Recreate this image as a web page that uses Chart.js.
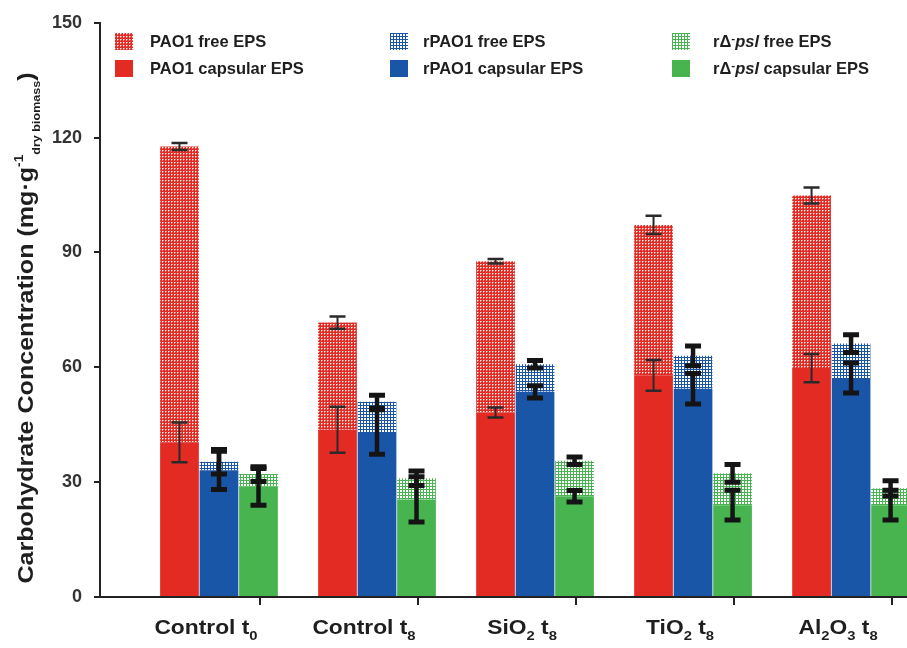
<!DOCTYPE html>
<html>
<head>
<meta charset="utf-8">
<script src="https://cdn.jsdelivr.net/npm/chart.js@4.4.1/dist/chart.umd.min.js"></script>
<style>
  html, body { margin: 0; padding: 0; background: #fff; overflow: hidden; }
  #wrap { width: 907px; height: 648px; position: relative; }
</style>
</head>
<body>
<div id="wrap"><canvas id="myChart"></canvas></div>
<script>
// categories (_x_ = subscript)
const groups = ["Control t_0_", "Control t_8_", "SiO_2_ t_8_", "TiO_2_ t_8_", "Al_2_O_3_ t_8_"];
const yTicks = [0, 30, 60, 90, 120, 150];

// mg per g dry biomass
const pao1Capsular = [40.4, 43.7, 48.2, 57.9, 59.8];
const pao1Free = [77.3, 28.0, 39.5, 39.3, 45.1];
const pao1CapsularErr = [5.2, 6.0, 1.3, 4.0, 3.7];
const pao1FreeErr = [0.9, 1.6, 0.6, 2.4, 2.1];

const rpao1Capsular = [33.1, 43.1, 53.6, 54.4, 57.2];
const rpao1Free = [2.2, 7.9, 7.2, 8.6, 9.0];
const rpao1CapsularErr = [5.0, 5.8, 1.6, 4.0, 3.9];
const rpao1FreeErr = [3.2, 1.7, 1.0, 2.6, 2.3];

const pslCapsular = [28.8, 25.5, 26.3, 24.0, 24.0];
const pslFree = [3.3, 5.5, 9.3, 8.3, 4.4];
const pslCapsularErr = [4.8, 5.9, 1.5, 3.9, 3.9];
const pslFreeErr = [1.9, 1.9, 1.0, 2.3, 2.0];

const FONT = "'Liberation Sans', Arial, Helvetica, sans-serif";
const RED = "#e32b24";
const BLUE = "#1a56a8";
const GREEN = "#47b44f";

const canvas = document.getElementById("myChart");
const ctx = canvas.getContext("2d");

// small tile patterns for the "free EPS" parts
const makePattern = (kind, color) => {
  const p = document.createElement("canvas");
  p.width = 3;
  p.height = 3;
  const g = p.getContext("2d");
  if (kind === "dots") {
    g.fillStyle = color;
    g.fillRect(0, 0, 3, 3);
    g.fillStyle = "#ffffff";
    g.fillRect(0, 0, 1, 1);
    g.fillStyle = "rgba(255,255,255,0.45)";
    g.fillRect(1, 0, 1, 1);
    g.fillRect(0, 1, 1, 1);
  } else {
    g.fillStyle = "#ffffff";
    g.fillRect(0, 0, 3, 3);
    g.fillStyle = color;
    g.fillRect(0, 0, 3, 1);
    g.fillRect(0, 0, 1, 3);
  }
  return ctx.createPattern(p, "repeat");
};

const toPoints = (arr) => arr.map((v, i) => ({ x: i, y: v }));

const thin = { errLine: 2, capWidth: 16, capThick: 2.5, errColor: "#2a2a2a" };
const thick = { errLine: 4.5, capWidth: 16, capThick: 5, errColor: "#141414" };

const datasets = [
  { label: "PAO1 capsular EPS", data: toPoints(pao1Capsular), errors: pao1CapsularErr, stack: "pao1",
    backgroundColor: RED, legendCol: 0, legendRow: 1, ...thin },
  { label: "PAO1 free EPS", data: toPoints(pao1Free), errors: pao1FreeErr, stack: "pao1",
    backgroundColor: makePattern("dots", RED), legendCol: 0, legendRow: 0, ...thin },
  { label: "rPAO1 capsular EPS", data: toPoints(rpao1Capsular), errors: rpao1CapsularErr, stack: "rpao1",
    backgroundColor: BLUE, legendCol: 1, legendRow: 1, ...thick },
  { label: "rPAO1 free EPS", data: toPoints(rpao1Free), errors: rpao1FreeErr, stack: "rpao1",
    backgroundColor: makePattern("grid", BLUE), legendCol: 1, legendRow: 0, ...thick },
  { label: "rΔ^-^*psl* capsular EPS", data: toPoints(pslCapsular), errors: pslCapsularErr, stack: "psl",
    backgroundColor: GREEN, legendCol: 2, legendRow: 1, ...thick },
  { label: "rΔ^-^*psl* free EPS", data: toPoints(pslFree), errors: pslFreeErr, stack: "psl",
    backgroundColor: makePattern("grid", GREEN), legendCol: 2, legendRow: 0, ...thick },
];

// tiny rich text: ^sup^, _sub_, *italic*
const parseRich = (str) =>
  str.split(/(\^[^^]*\^|_[^_]*_|\*[^*]*\*)/).filter((s) => s).map((s) => {
    if (s[0] === "^") return { t: s.slice(1, -1), mode: "sup" };
    if (s[0] === "_") return { t: s.slice(1, -1), mode: "sub" };
    if (s[0] === "*") return { t: s.slice(1, -1), mode: "ital" };
    return { t: s, mode: "norm" };
  });

const segFont = (seg, size, o) => {
  let fs = size;
  if (seg.mode === "sup") fs = size * o.supScale;
  if (seg.mode === "sub") fs = size * o.subScale;
  return `${seg.mode === "ital" ? "italic " : ""}bold ${fs}px ${FONT}`;
};

// draws text at (x, y); stretch widens glyphs along the baseline
const drawRich = (c, str, x, y, size, opts = {}) => {
  const o = Object.assign(
    { supScale: 0.6, subScale: 0.65, supShift: 0.38, subShift: 0.3, align: "left", stretch: 1 }, opts);
  const segs = parseRich(str);
  let total = 0;
  segs.forEach((s) => {
    c.font = segFont(s, size, o);
    s.w = c.measureText(s.t).width;
    total += s.w;
  });
  c.save();
  c.translate(x, y);
  c.scale(o.stretch, 1);
  let cx = o.align === "center" ? -total / 2 : 0;
  segs.forEach((s) => {
    c.font = segFont(s, size, o);
    let dy = 0;
    if (s.mode === "sup") dy = -size * o.supShift;
    if (s.mode === "sub") dy = size * o.subShift;
    c.fillText(s.t, cx, dy);
    cx += s.w;
  });
  c.restore();
  return total * o.stretch;
};

const errorBars = {
  id: "errorBars",
  afterDatasetsDraw(chart) {
    const c = chart.ctx;
    const y = chart.scales.y;
    const unit = y.getPixelForValue(0) - y.getPixelForValue(1);
    chart.data.datasets.forEach((ds, di) => {
      const meta = chart.getDatasetMeta(di);
      meta.data.forEach((bar, i) => {
        const e = ds.errors[i] * unit;
        const hw = ds.capWidth / 2;
        c.save();
        c.strokeStyle = ds.errColor;
        c.lineWidth = ds.errLine;
        c.beginPath();
        c.moveTo(bar.x, bar.y - e);
        c.lineTo(bar.x, bar.y + e);
        c.stroke();
        c.lineWidth = ds.capThick;
        c.beginPath();
        c.moveTo(bar.x - hw, bar.y - e);
        c.lineTo(bar.x + hw, bar.y - e);
        c.moveTo(bar.x - hw, bar.y + e);
        c.lineTo(bar.x + hw, bar.y + e);
        c.stroke();
        c.restore();
      });
    });
  },
};

const textBits = {
  id: "textBits",
  afterDraw(chart) {
    const c = chart.ctx;
    const xs = chart.scales.x;
    c.save();
    c.fillStyle = "#1e1e1e";
    c.textBaseline = "alphabetic";

    // category labels
    groups.forEach((g, i) => {
      drawRich(c, g, xs.getPixelForValue(i) - 13, 634, 20, { align: "center", stretch: 1.14 });
    });

    // legend, three columns by two rows
    const swX = [115, 390, 672];
    const txX = [150, 423, 713];
    const rowY = [41, 68];
    chart.data.datasets.forEach((ds) => {
      const yy = rowY[ds.legendRow];
      c.fillStyle = ds.backgroundColor;
      c.fillRect(swX[ds.legendCol], yy - 8, 18, 17);
      c.fillStyle = "#1e1e1e";
      drawRich(c, ds.label, txX[ds.legendCol], yy + 6, 16.5, { supScale: 0.7, supShift: 0.3 });
    });

    // rotated y title
    c.translate(33, 328);
    c.rotate(-Math.PI / 2);
    drawRich(c, "Carbohydrate Concentration (mg·g^-1^_dry biomass_)", 0, 0, 22,
      { align: "center", subScale: 0.5, subShift: 0.32, supScale: 0.55, supShift: 0.45, stretch: 1.14 });
    c.restore();
  },
};

new Chart(canvas, {
  type: "bar",
  data: { datasets },
  options: {
    responsive: true,
    maintainAspectRatio: false,
    animation: false,
    layout: { padding: { top: 22, right: 0, bottom: 0, left: 0 } },
    datasets: { bar: { categoryPercentage: 0.75, barPercentage: 0.98 } },
    plugins: { legend: { display: false }, tooltip: { enabled: false } },
    scales: {
      x: {
        type: "linear",
        stacked: true,
        offset: false,
        min: -0.753,
        max: 4.354,
        afterBuildTicks: (s) => {
          s.ticks = groups.map((g, i) => ({ value: i + 0.26 }));
        },
        afterFit: (s) => {
          s.height = 51;
        },
        ticks: { display: false },
        grid: { drawOnChartArea: false, tickLength: 8, color: "#222", lineWidth: 2, offset: false },
        border: { color: "#222", width: 2 },
      },
      y: {
        stacked: true,
        min: 0,
        max: 150,
        afterBuildTicks: (s) => {
          s.ticks = yTicks.map((v) => ({ value: v }));
        },
        afterFit: (s) => {
          s.width = 100;
        },
        ticks: { padding: 12, color: "#333", font: { size: 18, weight: "bold", family: FONT } },
        grid: { drawOnChartArea: false, tickLength: 6, color: "#222", lineWidth: 2 },
        border: { color: "#222", width: 2 },
      },
    },
  },
  plugins: [errorBars, textBits],
});
</script>
</body>
</html>
